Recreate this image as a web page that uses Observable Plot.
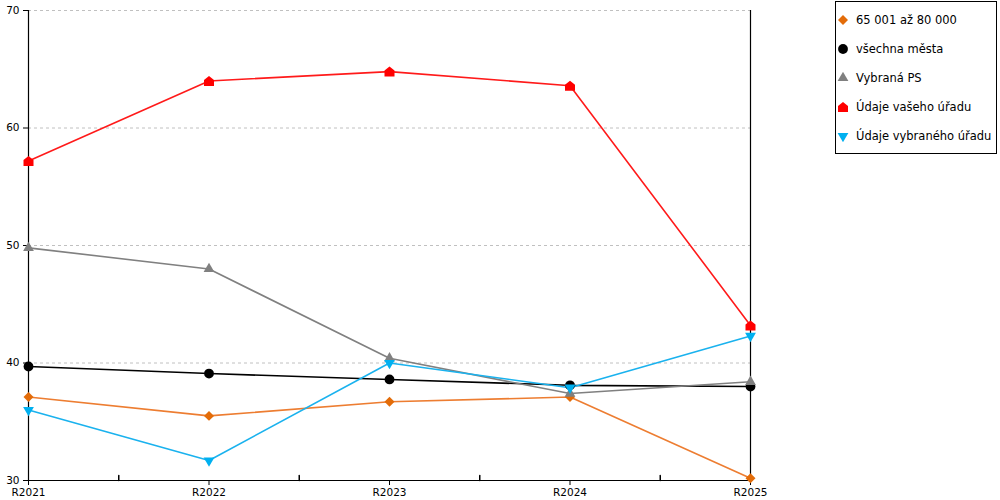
<!DOCTYPE html>
<html>
<head>
<meta charset="utf-8">
<script src="https://cdn.jsdelivr.net/npm/d3@7"></script>
<script src="https://cdn.jsdelivr.net/npm/@observablehq/plot@0.6"></script>
<style>
  html, body { margin: 0; padding: 0; background: #fff; }
  #wrap { position: relative; width: 1000px; height: 500px; font-family: "DejaVu Sans", Verdana, sans-serif; }
  #legend { position: absolute; left: 835px; top: 1px; width: 162px; height: 153px; border: 1px solid #000; box-sizing: border-box; background: #fff; }
  .item { position: absolute; left: 0; display: flex; align-items: center; font-size: 11.5px; color: #000; white-space: nowrap; }
  .item svg { margin-left: 1px; margin-right: 7px; }
</style>
</head>
<body>
<div id="wrap"><div id="legend"></div></div>
<script>
const years = ["R2021", "R2022", "R2023", "R2024", "R2025"];
const yTicks = [30, 40, 50, 60, 70];

const seriesNames = ["65 001 až 80 000", "všechna města", "Vybraná PS", "Údaje vašeho úřadu", "Údaje vybraného úřadu"];
const vals6580 = [37.1, 35.5, 36.7, 37.1, 30.2];
const valsVsechna = [39.7, 39.1, 38.6, 38.1, 38.0];
const valsPS = [49.8, 48.0, 40.4, 37.4, 38.4];
const valsVasUrad = [57.2, 64.0, 64.8, 63.6, 43.2];
const valsVybUrad = [36.0, 31.7, 40.0, 37.9, 42.3];

const lineColors = ["#ED7D31", "#000000", "#808080", "#FF1A1A", "#1AB2EE"];
const markColors = ["#E36C09", "#000000", "#808080", "#FF0000", "#00B0F0"];

// house-shaped symbol (pentagon)
const house = {
  draw(context, size) {
    const h = Math.sqrt(size / Math.PI);
    context.moveTo(0, -h);
    context.lineTo(h, -h * 0.2);
    context.lineTo(h, h);
    context.lineTo(-h, h);
    context.lineTo(-h, -h * 0.2);
    context.closePath();
  }
};
const symbols = ["diamond2", "circle", "triangle", house, "triangle"];
const radii = [4.5, 4.9, 4.0, 5.0, 4.0];
const rotations = [0, 0, 0, 0, 180];

const allVals = [vals6580, valsVsechna, valsPS, valsVasUrad, valsVybUrad];
const table = allVals.flatMap((vs, s) => vs.map((v, i) => ({s, i, v})));
const idx = d3.range(years.length);
const mids = d3.range(years.length - 1).map(i => i + 0.5);
const y0 = yTicks[0];

const tickShape = { draw(context, l) { context.moveTo(0, 0); context.lineTo(0, -l); } };

const marks = [
  Plot.ruleY(yTicks.slice(1), {stroke: "#c0c0c0", strokeDasharray: "3,3"}),
  Plot.ruleX([idx[0], idx[idx.length - 1]], {stroke: "#000", strokeWidth: 1.2}),
  Plot.ruleY([y0], {stroke: "#000", strokeWidth: 1.2}),
  Plot.axisY({ticks: yTicks, tickSize: 5, tickPadding: 4, fontSize: 10.5, label: null, stroke: "#000"}),
  Plot.axisX({ticks: idx, tickFormat: i => years[i], tickSize: 5, tickPadding: 3, fontSize: 10.5, label: null}),
  Plot.vector(mids, {x: d => d, y: () => y0, length: 5, anchor: "start", shape: tickShape, stroke: "#000"})
];
allVals.forEach((vs, s) => {
  marks.push(Plot.line(table.filter(d => d.s === s), {x: "i", y: "v", stroke: lineColors[s], strokeWidth: 1.6}));
});
allVals.forEach((vs, s) => {
  marks.push(Plot.dot(table.filter(d => d.s === s), {x: "i", y: "v", symbol: () => symbols[s], r: radii[s], fill: markColors[s], stroke: "none", rotate: rotations[s]}));
});

const chart = Plot.plot({
  width: 1000,
  height: 500,
  marginLeft: 28,
  marginRight: 250,
  marginTop: 10,
  marginBottom: 20,
  style: {fontFamily: "DejaVu Sans, Verdana, sans-serif", fontSize: "10.5px", color: "#000", background: "#fff"},
  x: {type: "linear", domain: [idx[0], idx[idx.length - 1]]},
  y: {type: "linear", domain: [yTicks[0], yTicks[yTicks.length - 1]]},
  symbol: {type: "identity"},
  marks
});
document.getElementById("wrap").prepend(chart);

// legend
const legend = document.getElementById("legend");
const typeMap = {diamond2: d3.symbolDiamond2, circle: d3.symbolCircle, triangle: d3.symbolTriangle};
seriesNames.forEach((name, s) => {
  const item = document.createElement("div");
  item.className = "item";
  item.style.top = (11 + s * 29) + "px";
  const t = typeof symbols[s] === "string" ? typeMap[symbols[s]] : symbols[s];
  const path = d3.symbol(t, Math.PI * radii[s] * radii[s])();
  item.innerHTML = `<svg width="12" height="12" viewBox="-6 -6 12 12"><path d="${path}" fill="${markColors[s]}" transform="rotate(${rotations[s]})"/></svg><span>${name}</span>`;
  legend.appendChild(item);
});
</script>
</body>
</html>
